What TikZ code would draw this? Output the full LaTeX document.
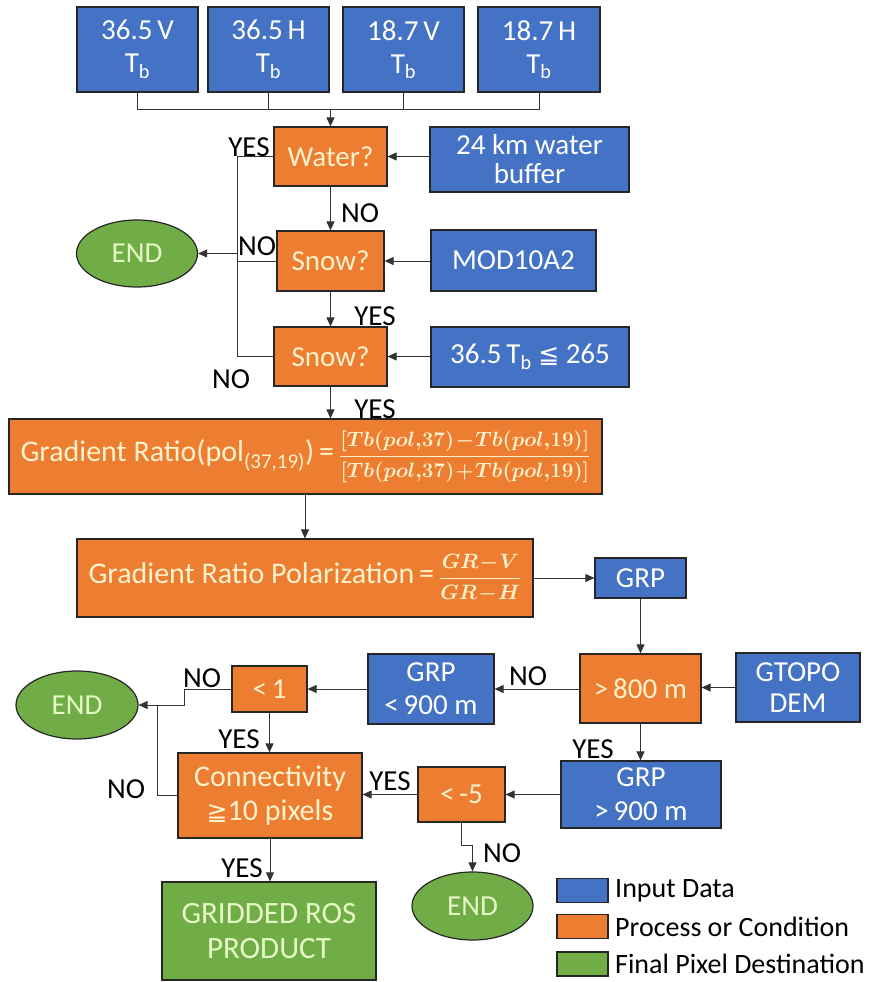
\documentclass[tikz,border=0pt]{standalone}
\usepackage{amsmath}
\usepackage{fontspec}
\setmainfont{Carlito}
\newfontfamily\labfont{Carlito}
\newfontfamily\symf{DejaVu Sans}
\usetikzlibrary{arrows.meta,shapes.geometric}
\definecolor{inblue}{HTML}{4472C4}
\definecolor{proc}{HTML}{ED7D31}
\definecolor{fin}{HTML}{70AD47}
\definecolor{proctext}{HTML}{FFF2CC}
\definecolor{fintext}{HTML}{E6F8C6}
\begin{document}
\begin{tikzpicture}[x=1pt,y=-1pt,
  box/.style={draw=black!85, line width=1.2pt, inner sep=1pt, align=center, font=\fontsize{29}{33}\selectfont},
  sz/.style 2 args={minimum width=#1pt, minimum height=#2pt},
  inp/.style={box, fill=inblue, text=white},
  prc/.style={box, fill=proc, text=proctext},
  fnl/.style={box, fill=fin, text=fintext},
  endnode/.style={fnl, ellipse, minimum width=121pt, minimum height=67pt},
  lab/.style={font=\labfont\fontsize{29}{32}\selectfont, text=black, inner sep=0pt, anchor=base},
  legtext/.style={font=\labfont\fontsize{28}{32}\selectfont, text=black, inner sep=0pt, anchor=west},
  arr/.style={-{Triangle[length=9pt,width=8pt]}, line width=0.9pt, draw=black!80},
  ln/.style={line width=0.9pt, draw=black!80}]
\useasboundingbox (0,0) rectangle (883,982);

% top inputs
\node[inp, sz={121}{85}] (b1) at (137.5,49.5) {36.5\,V\\T\textsubscript{b}};
\node[inp, sz={121}{85}] (b2) at (268.5,49.5) {36.5\,H\\T\textsubscript{b}};
\node[inp, sz={121}{85}] (b3) at (403.5,49.5) {18.7\,V\\T\textsubscript{b}};
\node[inp, sz={122}{85}] (b4) at (539,49.5) {18.7\,H\\T\textsubscript{b}};

% first decisions
\node[prc, sz={113}{59}] (water) at (330.5,156.5) {Water?};
\node[inp, sz={199}{65}, font=\fontsize{29}{29}\selectfont] (buffer) at (529.5,159.5) {24 km water\\buffer};
\node[prc, sz={107}{60}] (snow1) at (330.5,261) {Snow?};
\node[inp, sz={165}{61}] (mod) at (513.5,260.5) {MOD10A2};
\node[prc, sz={113}{59}] (snow2) at (330.5,356.5) {Snow?};
\node[inp, sz={198}{60}] (tb) at (530,357) {36.5\,T\textsubscript{b} {\symf\fontsize{25}{26}\selectfont ≦} 265};
\node[endnode] (end1) at (137,253.5) {END};

% gradient ratio
\node[prc, sz={593}{75}, font=\fontsize{30}{33}\selectfont] (gr) at (305.5,456.5) {Gradient Ratio(pol\textsubscript{(37,19)})\,=\,{\fontsize{21}{24}\selectfont\boldmath$\dfrac{[Tb(pol{,}37)\!-\!Tb(pol{,}19)]}{[Tb(pol{,}37)\!+\!Tb(pol{,}19)]}$}};
\node[prc, sz={456}{78}, font=\fontsize{30}{33}\selectfont] (grpol) at (305,578) {Gradient Ratio Polarization\,=\,{\fontsize{21}{24}\selectfont\boldmath$\dfrac{GR\!-\!V}{GR\!-\!H}$}};
\node[inp, sz={91}{40}] (grp) at (640.5,578) {GRP};

% elevation branch
\node[prc, sz={121}{69}] (gt800) at (640.5,688.5) {>\,800 m};
\node[inp, sz={124}{69}, font=\fontsize{29}{31}\selectfont] (gtopo) at (798,687.5) {GTOPO\\DEM};
\node[inp, sz={126}{70}, font=\fontsize{29}{33}\selectfont] (lt900) at (431,689) {GRP\\<\,900 m};
\node[prc, sz={75}{46}] (lt1) at (269.5,689) {<\,1};
\node[endnode, minimum width=122pt, minimum height=68pt] (end2) at (77,705) {END};
\node[prc, sz={184}{85}, font=\fontsize{30}{34}\selectfont] (conn) at (270,795.5) {Connectivity\\{\symf\fontsize{25}{26}\selectfont ≧}10 pixels};
\node[inp, sz={160}{67}, font=\fontsize{29}{34}\selectfont] (gt900) at (641,794.5) {GRP\\>\,900 m};
\node[prc, sz={87}{55}] (ltm5) at (461.5,794.5) {<\,-5};
\node[endnode, minimum height=68pt] (end3) at (472.5,906) {END};
\node[fnl, sz={214}{98}, font=\fontsize{31}{35}\selectfont] (ros) at (269,931) {GRIDDED ROS\\PRODUCT};

% legend
\node[inp, sz={51}{24}] (k1) at (582.5,890.5) {};
\node[prc, sz={51}{24}] (k2) at (582.5,926.5) {};
\node[fnl, sz={51}{24}] (k3) at (582.5,964) {};
\node[legtext] (k1t) at (615,890.5) {Input Data};
\node[legtext] (k2t) at (615,926.5) {Process or Condition};
\node[legtext] (k3t) at (615,964) {Final Pixel Destination};

% connectors: top merge
\coordinate (hub) at (330.5,109);
\draw[ln] (b1.south) -- (b1.south |- hub) -- (b4.south |- hub) -- (b4.south);
\draw[ln] (b2.south) -- (b2.south |- hub);
\draw[ln] (b3.south) -- (b3.south |- hub);
\draw[arr] (hub) -- (water.north);

% inputs into decisions
\draw[arr] (buffer.west |- water.east) -- (water.east);
\draw[arr] (mod.west |- snow1.east) -- (snow1.east);
\draw[arr] (tb.west |- snow2.east) -- (snow2.east);

% main chain
\draw[arr] (water.south) -- (snow1.north);
\draw[arr] (snow1.south) -- (snow2.north);
\draw[arr] (snow2.south) -- (snow2.south |- gr.north);
\draw[arr] (grpol.north |- gr.south) -- (grpol.north);
\draw[arr] (grpol.east) -- (grp.west);
\draw[arr] (grp.south) -- (gt800.north);

% left exit to END
\coordinate (v1) at (237,156.5);
\draw[ln] (water.west) -- (water.west -| v1) -- (snow2.west -| v1) -- (snow2.west);
\draw[ln] (snow1.west) -- (snow1.west -| v1);
\draw[arr] (end1.east -| v1) -- (end1.east);

% elevation branch
\draw[arr] (gtopo.west) -- (gtopo.west -| gt800.east);
\draw[arr] (gt800.west |- lt900.east) -- (lt900.east);
\draw[arr] (lt900.west) -- (lt1.east);
\coordinate (jn) at (184,705);
\draw[arr] (lt1.west) -| (jn) -- (end2.east);
\draw[ln] (conn.west) -| (157,705);
\draw[arr] (lt1.south) -- (lt1.south |- conn.north);
\draw[arr] (gt800.south) -- (gt800.south |- gt900.north);
\draw[arr] (gt900.west |- ltm5.east) -- (ltm5.east);
\draw[arr] (ltm5.west) -- (ltm5.west -| conn.east);
\coordinate (jm) at (472.5,845);
\draw[arr] (ltm5.south) |- (jm) -- (end3.north);
\draw[arr] (conn.south) -- (conn.south |- ros.north);

% labels
\node[lab] (y1) at (249,156) {YES};
\node[lab] (n1) at (360,222) {NO};
\node[lab] (n2) at (257,255) {NO};
\node[lab] (y2) at (375,325) {YES};
\node[lab] (n3) at (231,388) {NO};
\node[lab] (y3) at (375,418) {YES};
\node[lab] (n4) at (528,685) {NO};
\node[lab] (n5) at (202,687) {NO};
\node[lab] (y4) at (239,748) {YES};
\node[lab] (n6) at (126,798) {NO};
\node[lab] (y5) at (390,790) {YES};
\node[lab] (y6) at (242,877) {YES};
\node[lab] (y7) at (593,758) {YES};
\node[lab] (n7) at (502,862) {NO};
\end{tikzpicture}
\end{document}
